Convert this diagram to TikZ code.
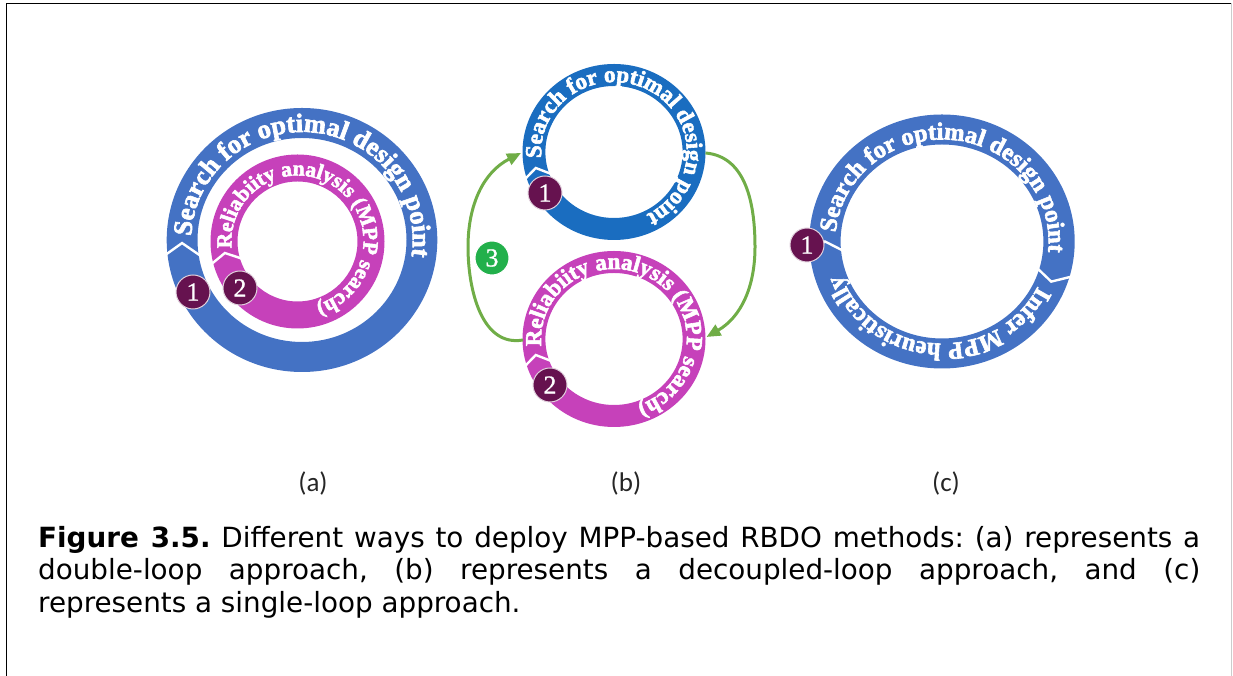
\documentclass[tikz,border=0pt]{standalone}
\usepackage{fontspec}
\usetikzlibrary{decorations.text, arrows.meta}
\newfontfamily\rfam{Liberation Serif}[BoldFeatures={FakeBold=2.5}]
\newfontfamily\nfam{Liberation Serif}[FakeBold=1]
\newfontfamily\capfam{DejaVu Sans}
\newfontfamily\labfam{Carlito}
\definecolor{blueA}{HTML}{4472C4}
\definecolor{blueB}{HTML}{1A6DC0}
\definecolor{magA}{HTML}{C641BA}
\definecolor{badgeP}{HTML}{66124F}
\definecolor{greenL}{HTML}{70AD47}
\definecolor{greenB}{HTML}{22B04B}
\newcommand\rfA{\fontsize{26.5}{26.5}\selectfont\rfam\bfseries}
\newcommand\rfM{\fontsize{21.5}{21.5}\selectfont\rfam\bfseries}
\newcommand\rfB{\fontsize{23}{23}\selectfont\rfam\bfseries}
\newcommand\rfC{\fontsize{24.5}{24.5}\selectfont\rfam\bfseries}
\newcommand\numfont{\fontsize{26}{26}\selectfont\nfam}
\newcommand\capfont{\capfam\fontsize{27.8}{32.5}\selectfont}
\newcommand\labfont{\labfam\fontsize{27}{27}\selectfont}
\tolerance=10000
\hyphenpenalty=10000
\exhyphenpenalty=10000
\frenchspacing
\tikzset{
  ringtxt/.style 2 args={decorate, decoration={text along path, text={|#1|#2}, text color=white}},
  chev/.style={white, line width=2.4pt, line join=miter},
  badge/.style={circle, fill=badgeP, draw=white!80!badgeP, line width=1pt, minimum size=34pt, inner sep=0pt, text=white, font=\numfont},
  gbadge/.style={badge, fill=greenB, draw=white},
  garrow/.style={greenL, line width=3pt, -{Triangle[length=14pt,width=12pt]}},
  sublab/.style={font=\labfont, text=black!85, inner sep=0pt},
}
\begin{document}
\begin{tikzpicture}[x=1pt,y=1pt]
\useasboundingbox (0,0) rectangle (1233,676);
% centres
\coordinate (cA) at (302,436);
\coordinate (cM) at (297.5,434.5);
\coordinate (cT) at (614,524);
\coordinate (cD) at (614,337);
\coordinate (cC) at (942,434.5);

% ---------- (a) ----------
\fill[blueA, even odd rule] (cA) ellipse [x radius=135.3pt, y radius=132pt] (cA) ellipse [x radius=104.5pt, y radius=102pt];
\fill[magA, even odd rule] (cM) circle [radius=87pt] (cM) circle [radius=60pt];
\draw[chev] ([shift={(cA)}]186.5:138pt and 135pt) -- ([shift={(cA)}]181.5:120pt and 117pt) -- ([shift={(cA)}]190:101pt and 99pt);
\draw[chev] ([shift={(cM)}]195:90pt) -- ([shift={(cM)}]189:73.5pt) -- ([shift={(cM)}]198:57pt);
\path[ringtxt={\rfA}{Search for optimal design point}] ([shift={(cA)}]178:110.7pt and 108pt) arc[start angle=178, end angle=-20, x radius=110.7pt, y radius=108pt];
\path[ringtxt={\rfM}{Reliabiity analysis (MPP search)}] ([shift={(cM)}]186:66pt) arc[start angle=186, end angle=-100, radius=66pt];
\node[badge] (a1) at (193,384) {1};
\node[badge] (a2) at (240,388) {2};

% ---------- (b) ----------
\fill[blueB, even odd rule] (cT) ellipse [x radius=91.5pt, y radius=88pt] (cT) ellipse [x radius=68.6pt, y radius=66pt];
\fill[magA, even odd rule] (cD) ellipse [x radius=91.5pt, y radius=88pt] (cD) ellipse [x radius=68.6pt, y radius=66pt];
\draw[chev] ([shift={(cT)}]198:94.6pt and 91pt) -- ([shift={(cT)}]192:80pt and 77pt) -- ([shift={(cT)}]201:65.5pt and 63pt);
\draw[chev] ([shift={(cD)}]198:94.6pt and 91pt) -- ([shift={(cD)}]192:80pt and 77pt) -- ([shift={(cD)}]201:65.5pt and 63pt);
\path[ringtxt={\rfB}{Search for optimal design point}] ([shift={(cT)}]185:72.8pt and 70pt) arc[start angle=185, end angle=-100, x radius=72.8pt, y radius=70pt];
\path[ringtxt={\rfB}{Reliabiity analysis (MPP search)}] ([shift={(cD)}]186:72.8pt and 70pt) arc[start angle=186, end angle=-100, x radius=72.8pt, y radius=70pt];
\node[badge] (b1) at (545,483) {1};
\node[badge] (b2) at (550,291) {2};
\coordinate (gL1) at (523,336);
\coordinate (gLm) at (468,429);
\coordinate (gL2) at (521,523);
\coordinate (gR1) at (705.5,523);
\coordinate (gRm) at (755,429);
\coordinate (gR2) at (706.5,339);
\draw[garrow] (gL1) to[out=190,in=-90] (gLm) to[out=90,in=207] (gL2);
\draw[garrow] (gR1) to[out=-5,in=90] (gRm) to[out=-90,in=30] (gR2);
\node[gbadge] (b3) at (492,418) {3};

% ---------- (c) ----------
\fill[blueA, even odd rule] (cC) ellipse [x radius=132.7pt, y radius=127pt] (cC) ellipse [x radius=101.4pt, y radius=97pt];
\draw[chev] ([shift={(cC)}]185.5:135.9pt and 130pt) -- ([shift={(cC)}]180:117pt and 112pt) -- ([shift={(cC)}]186:98.2pt and 94pt);
\draw[chev] ([shift={(cC)}]-15.5:135.9pt and 130pt) -- ([shift={(cC)}]-21:117pt and 112pt) -- ([shift={(cC)}]-16:98.2pt and 94pt);
\path[ringtxt={\rfC}{Search for optimal design point}] ([shift={(cC)}]175:106.6pt and 102pt) arc[start angle=175, end angle=-18, x radius=106.6pt, y radius=102pt];
\path[ringtxt={\rfC}{Infer MPP heuristically}] ([shift={(cC)}]-26:106.6pt and 102pt) arc[start angle=-26, end angle=-195, x radius=106.6pt, y radius=102pt];
\node[badge] (c1) at (807,431) {1};

% ---------- labels ----------
\node[sublab] (la) at (313,192) {(a)};
\node[sublab] (lb) at (626,192) {(b)};
\node[sublab] (lc) at (946,192) {(c)};

\node[anchor=north west, inner sep=0pt, text width=1162pt, align=justify, font=\capfont] (cap) at (38,150)
{\textbf{Figure 3.5.} Different ways to deploy MPP-based RBDO methods: (a) represents a\linebreak double-loop approach, (b) represents a decoupled-loop approach, and (c)\linebreak represents a single-loop approach.};

% ---------- frame ----------
\draw[black, line width=1.6pt] (6.5,0) -- (6.5,672.5) -- (1231,672.5);
\draw[black!20, line width=1.2pt] (1231.5,672.5) -- (1231.5,0);
\end{tikzpicture}
\end{document}
